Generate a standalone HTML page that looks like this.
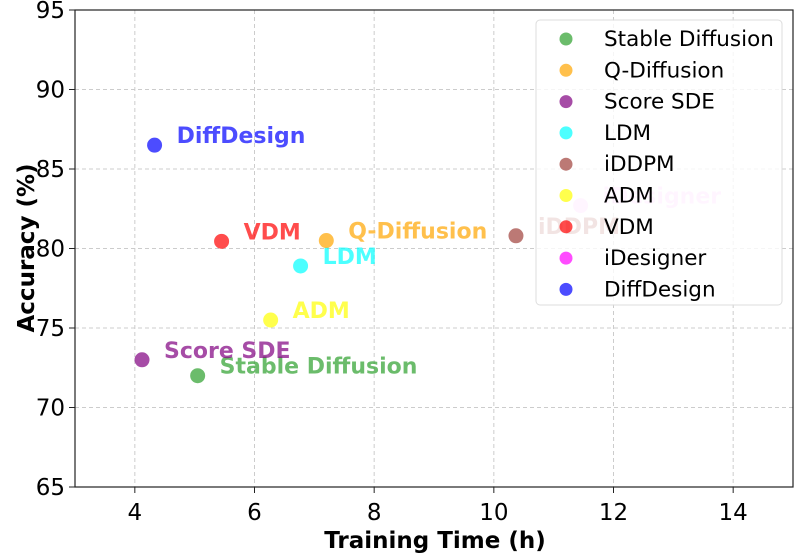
<!DOCTYPE html>
<html><head><meta charset="utf-8"><style>
body{margin:0;background:#fff;}
svg text{font-family:"DejaVu Sans","Liberation Sans",sans-serif;}
</style></head><body>
<svg id="chart" width="795" height="554" xmlns="http://www.w3.org/2000/svg">
<g id="grid"></g>
<g id="labels"></g>
<g id="points"></g>
<rect x="75" y="10" width="718" height="477" fill="none" stroke="#222" stroke-width="1.2"/>
<g id="ticks"></g>
<text x="435" y="548" text-anchor="middle" font-size="23" font-weight="bold">Training Time (h)</text>
<text transform="translate(34,248) rotate(-90)" text-anchor="middle" font-size="23" font-weight="bold">Accuracy (%)</text>
<g id="legend"></g>
</svg>
<script>
const names=["Stable Diffusion","Q-Diffusion","Score SDE","LDM","iDDPM","ADM","VDM","iDesigner","DiffDesign"];
const times=[5.05,7.2,4.12,6.77,10.37,6.27,5.45,11.45,4.33];
const accs=[72.0,80.5,73.0,78.9,80.8,75.5,80.45,82.7,86.5];
const colors=["#2ca02c","#ffa500","#800080","#00ffff","#a0403a","#ffff00","#ff0000","#ff00ff","#0000ff"];
const xTicks=[4,6,8,10,12,14];
const yTicks=[65,70,75,80,85,90,95];
const NS="http://www.w3.org/2000/svg";
const X=v=>75+(v-3)*718/12, Y=v=>487-(v-65)*477/30;
function mk(t,a,p){const e=document.createElementNS(NS,t);for(const k in a)e.setAttribute(k,a[k]);p.appendChild(e);return e;}
const grid=document.getElementById('grid'),ticks=document.getElementById('ticks');
xTicks.forEach(v=>{
 const l=mk('line',{x1:X(v),x2:X(v),y1:10,y2:487,stroke:'#ccc','stroke-dasharray':'4,3'},grid);
 
 
 const t=mk('line',{x1:X(v),x2:X(v),y1:487,y2:493,stroke:'#222'},ticks);
 
 
 const s=mk('text',{x:X(v),y:520,'text-anchor':'middle','font-size':23},ticks);s.textContent=v;
 
 
});
yTicks.forEach(v=>{
 const l=mk('line',{x1:75,x2:793,y1:Y(v),y2:Y(v),stroke:'#ccc','stroke-dasharray':'4,3'},grid);
 
 
 const t=mk('line',{x1:69,x2:75,y1:Y(v),y2:Y(v),stroke:'#222'},ticks);
 
 
 const s=mk('text',{x:65,y:Y(v)+8,'text-anchor':'end','font-size':23},ticks);s.textContent=v;
 
 
});
const pts=document.getElementById('points'),labs=document.getElementById('labels');
names.forEach((n,i)=>{
 const c=mk('circle',{cx:X(times[i]),cy:Y(accs[i]),r:7.5,fill:colors[i],'fill-opacity':i==7?0.2:0.7},pts);
 
 
 const t=mk('text',{x:X(times[i])+22,y:Y(accs[i])-2,'font-size':22,'font-weight':'bold',fill:colors[i],'fill-opacity':i==7?0.2:0.7},labs);t.textContent=n;
 
 
});
const lg=document.getElementById('legend');
const box=mk('rect',{x:536,y:20,width:246,height:285,rx:4,fill:'#fff','fill-opacity':0.8,stroke:'#ddd'},lg);


names.forEach((n,i)=>{
 const y=39+i*31.3;
 const c=mk('circle',{cx:566,cy:y,r:6.5,fill:colors[i],'fill-opacity':0.7},lg);
 
 
 const t=mk('text',{x:604,y:y+7,'font-size':21.5},lg);t.textContent=n;
 
 
});
</script>
</body></html>
